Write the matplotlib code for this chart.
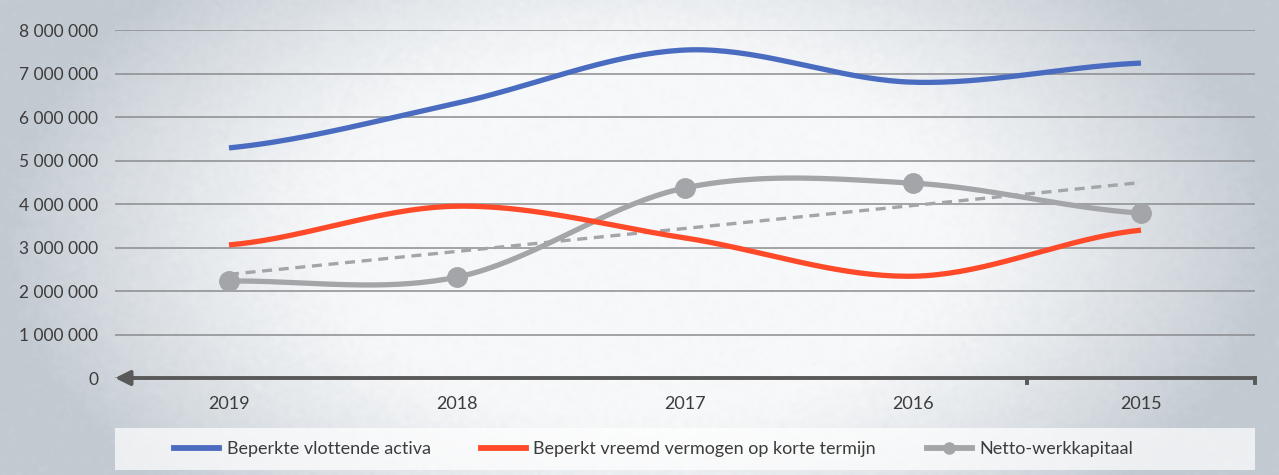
import numpy as np
import matplotlib
matplotlib.use('Agg')
import matplotlib.pyplot as plt
from matplotlib.ticker import FuncFormatter, FixedLocator
from matplotlib.lines import Line2D
from matplotlib.patches import Rectangle

plt.rcParams['font.family'] = ['Lato', 'DejaVu Sans']

years = ['2019', '2018', '2017', '2016', '2015']
vlottende_activa = [5.29e6, 6.32e6, 7.54e6, 6.80e6, 7.24e6]
vreemd_vermogen = [3.06e6, 3.95e6, 3.22e6, 2.34e6, 3.40e6]
werkkapitaal = [2.23e6, 2.32e6, 4.37e6, 4.48e6, 3.79e6]

BLUE = '#4a6cc0'
RED = '#ff4a2a'
GREY = '#a3a5a8'
TXT = '#3c3c3c'


def smooth(x, y, n=40):
    # Catmull-Rom style curve through the points, like Excel's "smoothed line"
    x = np.asarray(x, float)
    y = np.asarray(y, float)
    px = np.concatenate([[2 * x[0] - x[1]], x, [2 * x[-1] - x[-2]]])
    py = np.concatenate([[y[0]], y, [y[-1]]])
    xs, ys = [], []
    t = np.linspace(0, 1, n)
    for i in range(1, len(px) - 2):
        p0, p1, p2, p3 = py[i - 1], py[i], py[i + 1], py[i + 2]
        q0, q1, q2, q3 = px[i - 1], px[i], px[i + 1], px[i + 2]
        c1y = p1 + (p2 - p0) / 6
        c2y = p2 - (p3 - p1) / 6
        c1x = q1 + (q2 - q0) / 6
        c2x = q2 - (q3 - q1) / 6
        bx = (1 - t) ** 3 * q1 + 3 * (1 - t) ** 2 * t * c1x + 3 * (1 - t) * t ** 2 * c2x + t ** 3 * q2
        by = (1 - t) ** 3 * p1 + 3 * (1 - t) ** 2 * t * c1y + 3 * (1 - t) * t ** 2 * c2y + t ** 3 * p2
        xs.append(bx)
        ys.append(by)
    return np.concatenate(xs), np.concatenate(ys)


fig = plt.figure(figsize=(12.79, 4.75), dpi=100)

# scanned-paper look: grey edges fading to white in the middle
bg = fig.add_axes([0, 0, 1, 1], zorder=-10)
gx, gy = np.meshgrid(np.linspace(-1, 1, 400), np.linspace(-1, 1, 160))
r = np.sqrt((gx / 1.0) ** 2 + (gy / 1.6) ** 2)
shade = np.clip((r - 0.45) / 0.55, 0, 1) ** 1.3
rng = np.random.default_rng(3)
shade = np.clip(shade + rng.normal(0, 0.04, shade.shape), 0, 1)
light = np.array([0.97, 0.975, 0.98])
dark = np.array([0.76, 0.79, 0.82])
img = light[None, None, :] * (1 - shade[..., None]) + dark[None, None, :] * shade[..., None]
bg.imshow(img, aspect='auto', extent=[0, 1, 0, 1], interpolation='bicubic')
bg.axis('off')

ax = fig.add_axes([0.0899, 0.2042, 0.8913, 0.7326])
ax.patch.set_alpha(0)

x = np.arange(len(years))

for val, c in [(vlottende_activa, BLUE), (vreemd_vermogen, RED)]:
    sx, sy = smooth(x, val)
    ax.plot(sx, sy, color=c, lw=3.8, solid_capstyle='butt', zorder=4)

sx, sy = smooth(x, werkkapitaal)
ax.plot(sx, sy, color=GREY, lw=3.8, zorder=3)
ax.plot(x, werkkapitaal, 'o', color=GREY, ms=14, zorder=3)

# linear trend of the working capital
k, b = np.polyfit(x, werkkapitaal, 1)
ax.plot(x, k * x + b, color=GREY, lw=2.4, ls=(0, (3, 2)), zorder=3)

ax.set_xlim(-0.5, 4.5)
ax.set_ylim(0, 8e6)
ax.yaxis.set_major_locator(FixedLocator(np.arange(0, 8.1e6, 1e6)))
ax.yaxis.set_major_formatter(FuncFormatter(lambda v, p: f'{int(v):,}'.replace(',', ' ')))
ax.grid(axis='y', color='#8a8c8f', lw=1.1)
ax.set_axisbelow(True)
for s in ax.spines.values():
    s.set_visible(False)
ax.tick_params(axis='y', length=0, pad=12, labelsize=12.5, labelcolor=TXT)
ax.set_xticks(x)
ax.set_xticklabels(years)
ax.tick_params(axis='x', length=0, pad=13, labelsize=13, labelcolor=TXT)

# horizontal axis with an arrow head at the left end and category ticks
ax.annotate('', xy=(-0.5, 0), xytext=(4.5, 0), xycoords='data',
            arrowprops=dict(arrowstyle='-|>', color='#595959', lw=2.8,
                            mutation_scale=22, shrinkA=0, shrinkB=0),
            annotation_clip=False, zorder=5)
for tx in [3.5, 4.5]:
    ax.plot([tx, tx], [0, -0.12e6], color='#595959', lw=2.8, clip_on=False, zorder=5)

# pale box behind the legend, as wide as the plot area
fig.patches.append(Rectangle((115 / 1279, 1 - 470 / 475), 1140 / 1279, 42 / 475,
                             transform=fig.transFigure, facecolor='white',
                             alpha=0.7, edgecolor='none', zorder=1))

handles = [
    Line2D([], [], color=BLUE, lw=4.2),
    Line2D([], [], color=RED, lw=4.2),
    Line2D([], [], color=GREY, lw=4.2, marker='o', ms=8),
]
labels = ['Beperkte vlottende activa', 'Beperkt vreemd vermogen op korte termijn', 'Netto-werkkapitaal']
leg = fig.legend(handles, labels, loc='center', bbox_to_anchor=(0.511, 0.055), ncol=3,
                 frameon=False, fontsize=13, handlelength=2.5, handletextpad=0.4,
                 columnspacing=2.8, labelcolor=TXT)

fig.savefig('out.png', dpi=100)
